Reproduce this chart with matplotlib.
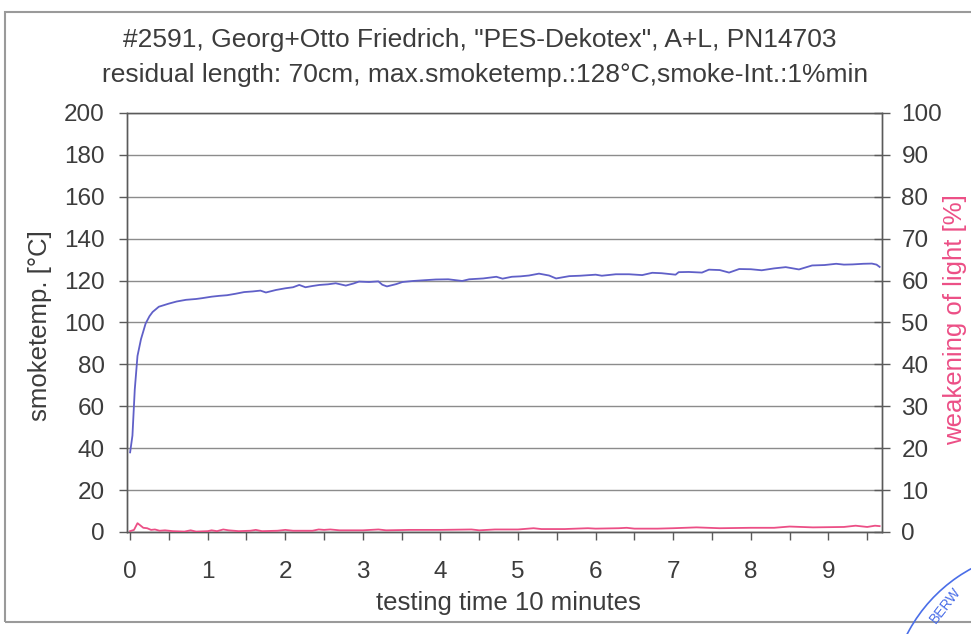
import numpy as np
import matplotlib
matplotlib.use("Agg")
import matplotlib.pyplot as plt
from matplotlib.patches import Rectangle, Arc

plt.rcParams['font.family'] = ['Liberation Sans', 'DejaVu Sans']

# smoke temperature (left axis, degC) over testing time (minutes)
t_temp = [0.0, 0.03, 0.06, 0.095, 0.14, 0.2, 0.25, 0.29, 0.37, 0.5, 0.6, 0.72, 0.85, 0.93,
          1.05, 1.15, 1.25, 1.36, 1.47, 1.58, 1.68, 1.75, 1.88, 2.0, 2.1, 2.18, 2.26, 2.35,
          2.44, 2.55, 2.65, 2.78, 2.88, 2.95, 3.08, 3.2, 3.25, 3.31, 3.43, 3.51, 3.65, 3.81,
          3.94, 4.1, 4.28, 4.37, 4.55, 4.72, 4.8, 4.92, 5.03, 5.14, 5.27, 5.4, 5.49, 5.66,
          5.8, 6.0, 6.08, 6.26, 6.43, 6.6, 6.73, 6.85, 7.03, 7.07, 7.2, 7.37, 7.46, 7.6,
          7.72, 7.85, 8.0, 8.14, 8.3, 8.45, 8.62, 8.79, 8.95, 9.1, 9.2, 9.31, 9.45, 9.56,
          9.62, 9.66]
smoke_temp = [38, 46, 68, 84, 92, 99.5, 103, 105, 107.5, 109, 110, 110.8, 111.2, 111.6,
              112.3, 112.7, 113, 113.7, 114.5, 114.8, 115.2, 114.3, 115.5, 116.3, 116.8, 117.9, 116.8, 117.4,
              117.9, 118.2, 118.7, 117.6, 118.6, 119.5, 119.3, 119.6, 118, 117.2, 118.3, 119.3, 119.8, 120.2,
              120.5, 120.6, 119.8, 120.6, 121, 121.8, 120.9, 121.8, 122, 122.4, 123.3, 122.4, 121, 122.1,
              122.3, 122.8, 122.3, 123, 123, 122.6, 123.7, 123.5, 122.8, 124, 124.1, 123.8, 125.2, 125,
              123.8, 125.5, 125.4, 124.9, 125.8, 126.4, 125.3, 127.2, 127.4, 128, 127.6, 127.7, 128, 128.1,
              127.6, 126.5]

# weakening of light (right axis, %)
t_light = [0.0, 0.05, 0.095, 0.13, 0.17, 0.22, 0.27, 0.32, 0.38, 0.45, 0.55, 0.7, 0.78, 0.85,
           1.0, 1.05, 1.12, 1.2, 1.27, 1.4, 1.55, 1.62, 1.7, 1.9, 2.0, 2.1, 2.35, 2.43, 2.5,
           2.58, 2.7, 3.0, 3.2, 3.3, 3.6, 4.0, 4.4, 4.5, 4.7, 5.0, 5.2, 5.3, 5.6, 5.9, 6.0,
           6.3, 6.4, 6.5, 6.8, 7.0, 7.3, 7.6, 8.0, 8.3, 8.5, 8.8, 9.2, 9.35, 9.5, 9.6, 9.66]
light = [0.2, 0.5, 2.1, 1.6, 1.0, 0.9, 0.5, 0.6, 0.3, 0.4, 0.2, 0.1, 0.4, 0.1,
         0.2, 0.4, 0.2, 0.6, 0.4, 0.2, 0.3, 0.5, 0.2, 0.3, 0.5, 0.3, 0.3, 0.6, 0.5,
         0.6, 0.4, 0.4, 0.6, 0.4, 0.5, 0.5, 0.6, 0.4, 0.6, 0.6, 0.9, 0.7, 0.7, 0.9, 0.8,
         0.9, 1.0, 0.8, 0.8, 0.9, 1.1, 0.9, 1.0, 1.0, 1.3, 1.1, 1.2, 1.5, 1.2, 1.5, 1.4]

x_ticks = list(range(10))
left_ticks = list(range(0, 201, 20))
right_ticks = list(range(0, 101, 10))

text_col = '#3c3c3c'
axis_col = '#5a5a5a'
blue = '#6060c8'
pink = '#ec4f86'

fig = plt.figure(figsize=(9.71, 6.34), dpi=100)
ax = fig.add_axes([0.1308, 0.1609, 0.7775, 0.661])
ax2 = ax.twinx()

ax.plot(t_temp, smoke_temp, color=blue, lw=1.3, zorder=3)
ax2.plot(t_light, light, color=pink, lw=1.3, zorder=3)

ax.set_xlim(-0.04, 9.69)
ax.set_ylim(0, 200)
ax2.set_ylim(0, 100)
ax.set_xticks(x_ticks)
ax.set_xticks(np.arange(0.5, 9.6, 1.0), minor=True)
ax.set_yticks(left_ticks)
ax2.set_yticks(right_ticks)

ax.yaxis.grid(True, color='#8c8c8c', lw=1.0)
ax.set_axisbelow(True)

for a in (ax, ax2):
    for s in a.spines.values():
        s.set_color(axis_col)
        s.set_linewidth(1.0)
ax.spines['top'].set_color('#8c8c8c')

ax.tick_params(axis='x', which='both', direction='out', length=6, width=1,
               color=axis_col, labelsize=17.5, labelcolor=text_col, pad=15)
ax.tick_params(axis='y', direction='out', length=6, width=1,
               color=axis_col, labelsize=17.5, labelcolor=text_col, pad=10)
ax2.tick_params(axis='y', direction='inout', length=12, width=1,
                color=axis_col, labelsize=17.5, labelcolor=text_col, pad=8)

fig.text(40 / 971, 1 - 326 / 634, 'smoketemp. [°C]', rotation=90, ha='center', va='center',
         fontsize=18.5, color=text_col)
fig.text(955 / 971, 1 - 320 / 634, 'weakening of light [%]', rotation=90, ha='center', va='center',
         fontsize=18.5, color=pink)
fig.text(508 / 971, 1 - 603 / 634, 'testing time 10 minutes', ha='center', va='center',
         fontsize=18.5, color=text_col)
fig.text(480 / 971, 1 - 40 / 634, '#2591, Georg+Otto Friedrich, "PES-Dekotex", A+L, PN14703',
         ha='center', va='center', fontsize=19, color=text_col)
fig.text(485 / 971, 1 - 75 / 634, 'residual length: 70cm, max.smoketemp.:128°C,smoke-Int.:1%min',
         ha='center', va='center', fontsize=19, color=text_col)

# scanned page frame
fig.add_artist(Rectangle((5 / 971, 12 / 634), 1.0, 610 / 634, transform=fig.transFigure,
                         fill=False, edgecolor='#9a9a9a', lw=1.5))

# part of the blue stamp in the corner
fig.add_artist(Arc((1045 / 971, 1 - 705 / 634), 2 * 155 / 971, 2 * 155 / 634,
                   theta1=95, theta2=215, transform=fig.transFigure, color='#4a6ee8', lw=1.2))
fig.text(945 / 971, 1 - 605 / 634, 'BERW', rotation=52, ha='center', va='center',
         fontsize=10, color='#4a6ee8')

fig.savefig('out.png', dpi=100)
